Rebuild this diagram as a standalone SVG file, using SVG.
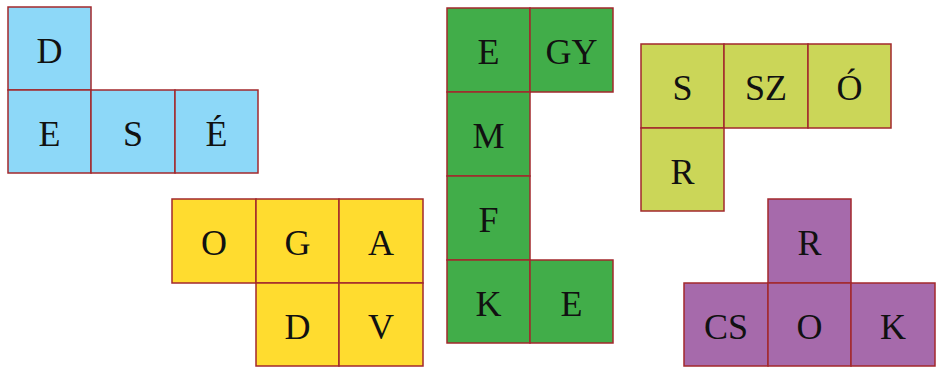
<svg xmlns="http://www.w3.org/2000/svg" width="942" height="370" viewBox="0 0 942 370">
<style>
rect{stroke:#a3282d;stroke-width:1.5}
text{font-family:"Liberation Serif","Times New Roman",serif;font-size:36px;fill:#111;text-anchor:middle}
.b{fill:#8dd8f8}.y{fill:#ffdc2f}.g{fill:#41ad49}.o{fill:#cbd658}.p{fill:#a66aab}
</style>
<rect width="942" height="370" fill="#fff" style="stroke:none"/>
<g id="blue">
<rect class="b" x="8" y="7" width="83" height="83"/><text x="49.5" y="63">D</text>
<rect class="b" x="8" y="90" width="83" height="83"/><text x="49.5" y="146">E</text>
<rect class="b" x="91" y="90" width="84" height="83"/><text x="133" y="146">S</text>
<rect class="b" x="175" y="90" width="83" height="83"/><text x="216.5" y="146">É</text>
</g>
<g id="yellow">
<rect class="y" x="172" y="199" width="84" height="84"/><text x="214" y="255">O</text>
<rect class="y" x="256" y="199" width="83" height="84"/><text x="297.5" y="255">G</text>
<rect class="y" x="339" y="199" width="84" height="84"/><text x="381" y="255">A</text>
<rect class="y" x="256" y="283" width="83" height="83"/><text x="297.5" y="339">D</text>
<rect class="y" x="339" y="283" width="84" height="83"/><text x="381" y="339">V</text>
</g>
<g id="green">
<rect class="g" x="447" y="8" width="83" height="84"/><text x="488.5" y="64">E</text>
<rect class="g" x="530" y="8" width="83" height="84"/><text x="571.5" y="64">GY</text>
<rect class="g" x="447" y="92" width="83" height="84"/><text x="488.5" y="148">M</text>
<rect class="g" x="447" y="176" width="83" height="84"/><text x="488.5" y="232">F</text>
<rect class="g" x="447" y="260" width="83" height="83"/><text x="488.5" y="316">K</text>
<rect class="g" x="530" y="260" width="83" height="83"/><text x="571.5" y="316">E</text>
</g>
<g id="olive">
<rect class="o" x="641" y="44" width="83" height="84"/><text x="682.5" y="100">S</text>
<rect class="o" x="724" y="44" width="84" height="84"/><text x="766" y="100">SZ</text>
<rect class="o" x="808" y="44" width="83" height="84"/><text x="849.5" y="100">Ó</text>
<rect class="o" x="641" y="128" width="83" height="83"/><text x="682.5" y="184">R</text>
</g>
<g id="purple">
<rect class="p" x="768" y="199" width="83" height="84"/><text x="809.5" y="255">R</text>
<rect class="p" x="684" y="283" width="84" height="83"/><text x="726" y="339">CS</text>
<rect class="p" x="768" y="283" width="83" height="83"/><text x="809.5" y="339">O</text>
<rect class="p" x="851" y="283" width="84" height="83"/><text x="893" y="339">K</text>
</g>
<g id="connectors"/>
</svg>
